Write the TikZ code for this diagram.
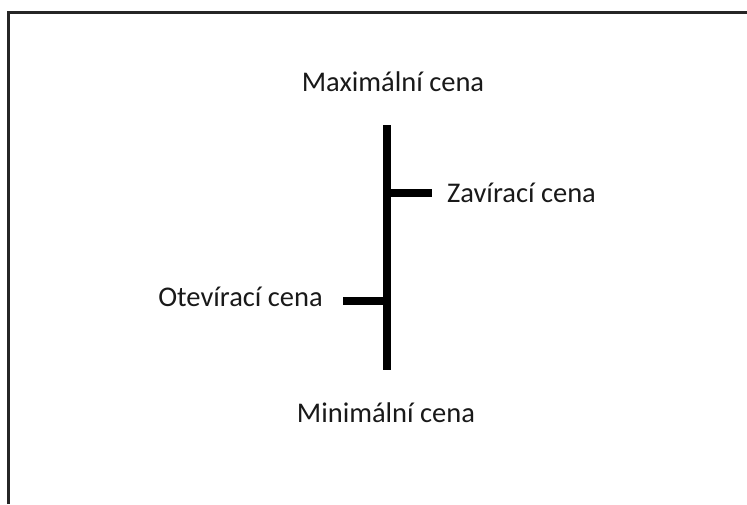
\documentclass[tikz,border=0pt]{standalone}
\usepackage{fontspec}
\setmainfont{Carlito}
\begin{document}
\begin{tikzpicture}[x=1pt,y=-1pt,
  lbl/.style={font=\fontsize{28.5}{34}\selectfont, text=black!90, inner sep=0pt},
  bar/.style={line width=7.5pt, black},
  frame/.style={line width=2.2pt, black!85}]
\useasboundingbox (0,0) rectangle (747,504);
\fill[white] (0,0) rectangle (747,504);
\coordinate (fl) at (8.5,504);
\coordinate (fc) at (8.5,12.5);
\coordinate (fr) at (747,12.5);
\draw[frame] (fl) -- (fc) -- (fr);
\coordinate (top) at (387,125);
\coordinate (bot) at (387,370);
\coordinate (c1) at (387,193);
\coordinate (c2) at (432,193);
\coordinate (o1) at (387,301);
\coordinate (o2) at (343,301);
\draw[bar] (top) -- (bot);
\draw[bar] (c1) -- (c2);
\draw[bar] (o1) -- (o2);
\node[lbl,anchor=base] (max) at (393,91) {Maximální cena};
\node[lbl,anchor=base west] (zav) at (447,202) {Zavírací cena};
\node[lbl,anchor=base east] (ote) at (323,306) {Otevírací cena};
\node[lbl,anchor=base] (min) at (386,422) {Minimální cena};
\end{tikzpicture}
\end{document}
